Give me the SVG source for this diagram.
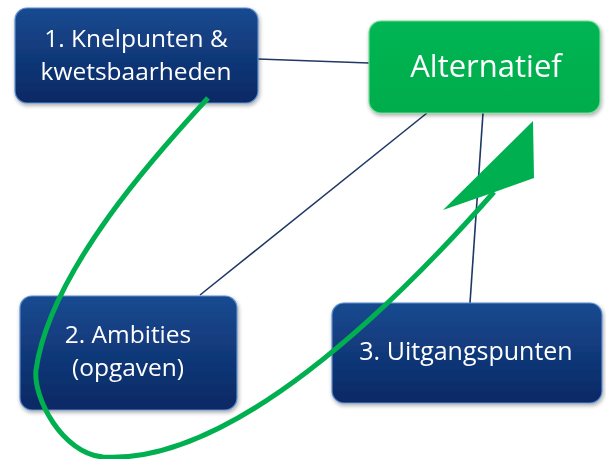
<svg xmlns="http://www.w3.org/2000/svg" width="606" height="459" viewBox="0 0 606 459">
  <defs>
    <linearGradient id="blueFill" x1="0" y1="0" x2="0" y2="1">
      <stop offset="0" stop-color="#184A90"/>
      <stop offset="1" stop-color="#0A2864"/>
    </linearGradient>
    <linearGradient id="greenFill" x1="0" y1="0" x2="0" y2="1">
      <stop offset="0" stop-color="#06B553"/>
      <stop offset="1" stop-color="#00AC4C"/>
    </linearGradient>
    <filter id="shadow" x="-10%" y="-10%" width="120%" height="125%">
      <feGaussianBlur in="SourceAlpha" stdDeviation="2"/>
      <feOffset dx="1" dy="2" result="b"/>
      <feComponentTransfer><feFuncA type="linear" slope="0.35"/></feComponentTransfer>
      <feMerge><feMergeNode/><feMergeNode in="SourceGraphic"/></feMerge>
    </filter>
  </defs>
  <style>
    .box { filter: url(#shadow); }
    .blue { fill: url(#blueFill); stroke: #5E8FD0; stroke-width: 1.2; }
    .green { fill: url(#greenFill); stroke: #6FDB95; stroke-width: 1.2; }
    .label { font-family: "Open Sans", "Liberation Sans", sans-serif; fill: #FFFFFF; text-anchor: middle; }
    .link { stroke: #1F3864; stroke-width: 1.6; fill: none; }
    .cycle { stroke: #00B050; stroke-width: 5; fill: none; stroke-linecap: butt; }
  </style>

  <g id="connectors">
    <line class="link" x1="258" y1="59" x2="369" y2="63"/>
    <line class="link" x1="427" y1="113" x2="200" y2="295"/>
    <line class="link" x1="483" y1="113" x2="470" y2="303"/>
  </g>

  <g id="node-knelpunten" class="box">
    <rect class="blue" x="15" y="8" width="243" height="95" rx="12"/>
    <text class="label" font-size="24.5" x="136" y="47">1. Knelpunten &amp;</text>
    <text class="label" font-size="24.5" x="136" y="80">kwetsbaarheden</text>
  </g>

  <g id="node-alternatief" class="box">
    <rect class="green" x="369" y="21" width="231" height="92" rx="12"/>
    <text class="label" font-size="31" x="486" y="77">Alternatief</text>
  </g>

  <g id="node-ambities" class="box">
    <rect class="blue" x="20" y="296" width="217" height="114" rx="12"/>
    <text class="label" font-size="24.5" x="128" y="343">2. Ambities</text>
    <text class="label" font-size="24.5" x="128" y="376">(opgaven)</text>
  </g>

  <g id="node-uitgangspunten" class="box">
    <rect class="blue" x="332" y="303" width="270" height="100" rx="12"/>
    <text class="label" font-size="25" x="466" y="360">3. Uitgangspunten</text>
  </g>

  <g id="cycle-arrow">
    <path class="cycle" d="M208,98 C160,150 50,270 36,370 C33,398 62,453 103,457 C230,465 390,310 494,192"/>
    <polygon fill="#00B050" points="533,121 534,178 492,193 443,210"/>
  </g>
</svg>
